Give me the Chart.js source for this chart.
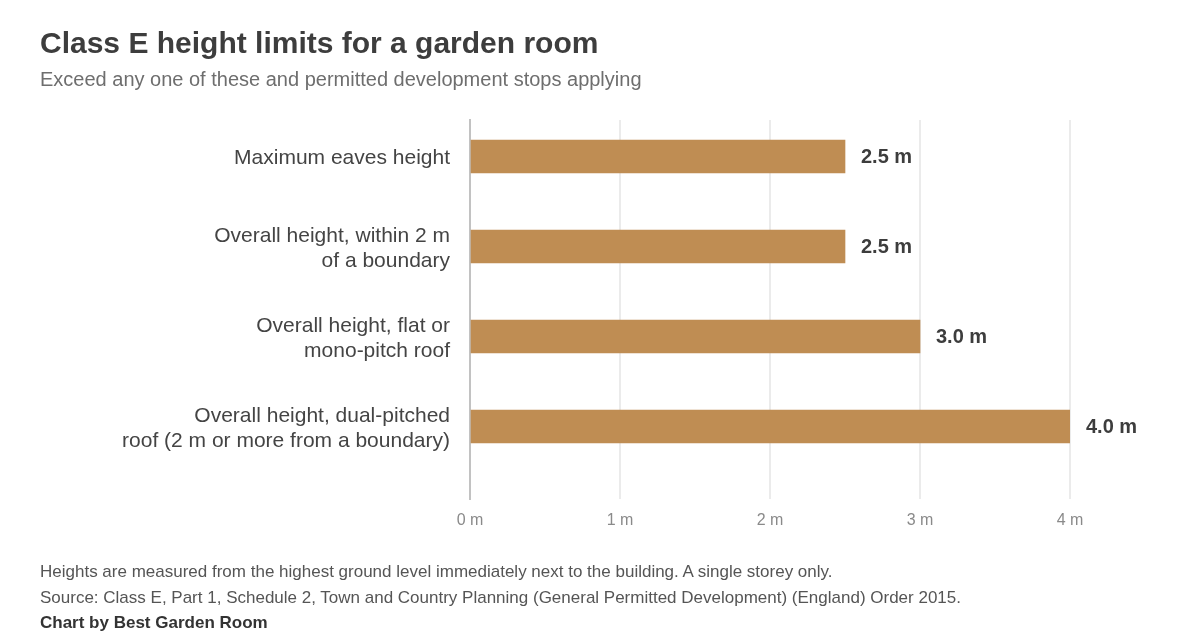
<!doctype html>
<html lang="en">
<head>
	<meta charset="utf-8">
	<title>Class E height limits for a garden room</title>
	<style>
		* {
			font-family: "Liberation Sans", Arial, sans-serif;
			margin: 0;
			padding: 0;
		}

		body {
			background: #ffffff;
		}

		.frame {
			position: relative;
			width: 1200px;
			height: 640px;
			overflow: hidden;
		}

		.frame canvas {
			position: absolute;
			left: 0;
			top: 0;
		}

		.txt {
			position: absolute;
			left: 40px;
			white-space: nowrap;
			line-height: 1;
		}

		.title {
			top: 28px;
			font-size: 30px;
			font-weight: bold;
			color: #3d3d3d;
		}

		.subtitle {
			top: 69px;
			font-size: 20px;
			color: #6e6e6e;
		}

		.note {
			font-size: 17px;
			color: #555555;
		}

		.credit {
			font-size: 17px;
			font-weight: bold;
			color: #333333;
		}
	</style>
</head>

<body>
	<div class="frame">
		<canvas id="heightChart" width="1200" height="640"></canvas>
		<div class="txt title">Class E height limits for a garden room</div>
		<div class="txt subtitle">Exceed any one of these and permitted development stops applying</div>
		<div class="txt note" style="top:563px">Heights are measured from the highest ground level immediately next to the building. A single storey only.</div>
		<div class="txt note" style="top:589px">Source: Class E, Part 1, Schedule 2, Town and Country Planning (General Permitted Development) (England) Order 2015.</div>
		<div class="txt credit" style="top:614px">Chart by Best Garden Room</div>
	</div>

	<script src="https://cdn.jsdelivr.net/npm/chart.js"></script>
	<script>
		// ---- data ----
		const limitLabels = [
			['Maximum eaves height'],
			['Overall height, within 2 m', 'of a boundary'],
			['Overall height, flat or', 'mono-pitch roof'],
			['Overall height, dual-pitched', 'roof (2 m or more from a boundary)']
		];
		const limitMetres = [2.5, 2.5, 3.0, 4.0];
		const metreTicks = [0, 1, 2, 3, 4];

		const barColour = '#bf8d53';
		const fontFamily = '"Liberation Sans", Arial, sans-serif';

		// value label at the end of each bar
		const valueLabels = {
			id: 'valueLabels',
			afterDatasetsDraw(chart) {
				const {ctx} = chart;
				const meta = chart.getDatasetMeta(0);
				ctx.save();
				ctx.font = 'bold 20px ' + fontFamily;
				ctx.fillStyle = '#3d3d3d';
				ctx.textAlign = 'left';
				ctx.textBaseline = 'middle';
				meta.data.forEach((bar, i) => {
					ctx.fillText(limitMetres[i].toFixed(1) + ' m', bar.x + 16, bar.y + 1);
				});
				ctx.restore();
			}
		};

		const chart = new Chart(document.getElementById('heightChart'), {
			type: 'bar',
			data: {
				datasets: [{
					data: limitMetres.map((v, i) => ({x: v, y: i})),
					backgroundColor: barColour,
					borderWidth: 0,
					barThickness: 33
				}]
			},
			options: {
				indexAxis: 'y',
				responsive: false,
				animation: false,
				layout: {padding: {top: 120, right: 130, left: 0, bottom: 0}},
				plugins: {
					legend: {display: false},
					tooltip: {enabled: false}
				},
				scales: {
					x: {
						type: 'linear',
						min: 0,
						max: 4,
						z: 1,
						afterBuildTicks(s) {
							s.ticks = metreTicks.map(v => ({value: v}));
						},
						afterFit(s) {
							s.height = 141;
						},
						border: {display: false},
						grid: {
							drawTicks: false,
							lineWidth: 2,
							color: ctx => ctx.tick && ctx.tick.value === 0 ? 'rgba(0,0,0,0)' : 'rgba(215,215,215,0.5)'
						},
						ticks: {
							padding: 12,
							color: '#8a8a8a',
							font: {family: fontFamily, size: 16},
							callback: v => v + ' m'
						}
					},
					y: {
						type: 'linear',
						reverse: true,
						offset: false,
						min: -0.406,
						max: 3.806,
						afterBuildTicks(s) {
							s.ticks = limitLabels.map((_, i) => ({value: i}));
						},
						afterFit(s) {
							s.width = 470;
						},
						border: {display: true, color: '#c2c2c2', width: 2},
						grid: {display: false, drawTicks: false, offset: false},
						ticks: {
							padding: 20,
							labelOffset: 2,
							color: '#444444',
							font: {family: fontFamily, size: 21, lineHeight: 1.2},
							callback: v => limitLabels[v]
						}
					}
				}
			},
			plugins: [valueLabels]
		});
	</script>
</body>
</html>
